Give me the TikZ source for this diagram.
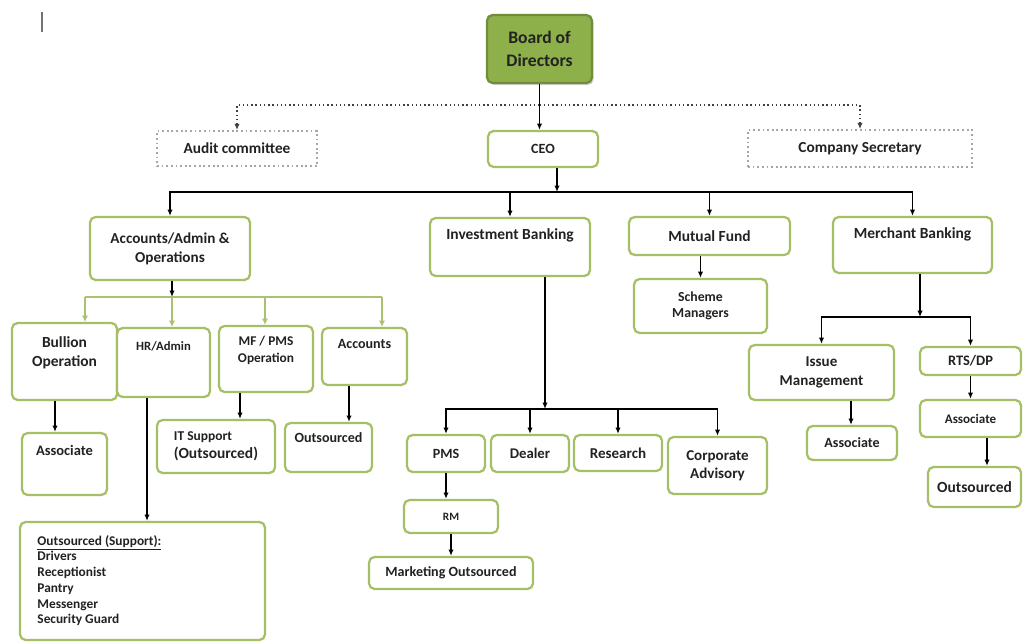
\documentclass[tikz,border=0pt]{standalone}
\usepackage{fontspec}
\setmainfont{Carlito}
\usepackage{tikz}
\usetikzlibrary{arrows.meta,positioning,shadows}
\definecolor{boxgreen}{HTML}{A5BF66}
\definecolor{bodgreen}{HTML}{8DB04A}
\definecolor{linkgreen}{HTML}{A9C272}
\definecolor{inkdark}{HTML}{222222}

\begin{document}
\begin{tikzpicture}[x=0.025cm,y=-0.025cm,
    fs/.style 2 args={font=\bfseries\fontsize{#1}{#2}\selectfont},
    boxsize/.style 2 args={minimum width=#1*0.025cm,minimum height=#2*0.025cm},
    orgbox/.style={draw=boxgreen,line width=1.6pt,rounded corners=4pt,fill=white,
      text=inkdark,fs={10}{12.5},align=center,inner sep=1pt},
    bodbox/.style={orgbox,fill=bodgreen,draw=bodgreen!80!black,fs={12.5}{16.5},
      drop shadow={opacity=0.35,shadow xshift=1.2pt,shadow yshift=-1.5pt}},
    dotbox/.style={draw=gray!70,dotted,line width=1.3pt,fill=white,text=inkdark,
      fs={10.9}{13},inner sep=1pt},
    lbl/.style={text=inkdark,align=center,inner sep=0pt},
    arr/.style={-{Latex[length=4.5pt,width=3.8pt]},line width=1.1pt,black},
    garr/.style={-{Latex[length=4.5pt,width=4.5pt]},line width=1.8pt,linkgreen},
    dotarr/.style={-{Latex[length=4.5pt,width=3.8pt]},dotted,line width=1pt,black!75}]
  \useasboundingbox[fill=white] (0,0) rectangle (1023,642);
  \draw[black!55,line width=0.8pt] (42,12) -- (42,32);

  \node[bodbox,boxsize={105}{68}] (bod) at (539.5,49) {Board of\\Directors};
  \node[dotbox,boxsize={160}{35}] (audit) at (237,148.5) {Audit committee};
  \node[orgbox,boxsize={110}{36}] (ceo) at (543,149) {CEO};
  \node[dotbox,boxsize={224}{37}] (csec) at (860,148.5) {Company Secretary};

  \node[orgbox,boxsize={160}{63},fs={10.8}{13.5}] (acc) at (170,248.5) {Accounts/Admin \&\\Operations};
  \node[orgbox,boxsize={160}{58}] (ib) at (510,247) {};
  \node[lbl,fs={11}{13},below=8.5pt of ib.north] (ib-t) {Investment Banking};
  \node[orgbox,boxsize={161}{38},fs={11}{13}] (mf) at (709.5,236) {Mutual Fund};
  \node[orgbox,boxsize={159}{56}] (mb) at (912.5,245) {};
  \node[lbl,fs={11}{13},below=8.5pt of mb.north] (mb-t) {Merchant Banking};
  \node[orgbox,boxsize={133}{54},fs={9.8}{11.2}] (sm) at (700.5,306) {Scheme\\Managers};

  \node[orgbox,boxsize={105}{77}] (bul) at (64.5,361.5) {};
  \node[lbl,fs={11}{14},below=10pt of bul.north] (bul-t) {Bullion\\Operation};
  \node[orgbox,boxsize={93}{69}] (hr) at (163.5,362.5) {};
  \node[lbl,fs={9}{10},below=10.5pt of hr.north] (hr-t) {HR/Admin};
  \node[orgbox,boxsize={94}{66}] (mfpms) at (266,359) {};
  \node[lbl,fs={9.5}{11.6},below=8pt of mfpms.north] (mfpms-t) {MF / PMS\\Operation};
  \node[orgbox,boxsize={85}{57}] (accts) at (364.5,356.5) {};
  \node[lbl,fs={10}{11},below=8.5pt of accts.north] (accts-t) {Accounts};

  \node[orgbox,boxsize={85}{62}] (assoc1) at (64.5,464) {};
  \node[lbl,fs={10.3}{12},below=9.5pt of assoc1.north] (assoc1-t) {Associate};
  \node[orgbox,boxsize={118}{53},align=left] (its) at (216,446.5)
    {{\fontsize{9.6}{12}\selectfont IT Support}\\{\fontsize{11}{13}\selectfont(Outsourced)}};
  \node[orgbox,boxsize={87}{49}] (out1) at (328.5,447.5) {};
  \node[lbl,fs={10}{11},below=7.5pt of out1.north] (out1-t) {Outsourced};
  \node[orgbox,boxsize={245}{118}] (ops) at (142.5,581) {};
  \node[lbl,fs={9.5}{11.2},align=left,below right=10pt and 13pt of ops.north west] (ops-t)
    {\underline{Outsourced (Support):}\\Drivers\\Receptionist\\Pantry\\Messenger\\Security Guard};

  \node[orgbox,boxsize={78}{37}] (pms) at (446,453.5) {PMS};
  \node[orgbox,boxsize={78}{37},fs={10.5}{12}] (dealer) at (530,453.5) {Dealer};
  \node[orgbox,boxsize={88}{36},fs={10.7}{12}] (res) at (618,453) {Research};
  \node[orgbox,boxsize={99}{57},fs={10.7}{12.5}] (corp) at (717.5,465.5) {Corporate\\Advisory};
  \node[orgbox,boxsize={94}{33},fs={8}{10}] (rm) at (451,516.5) {RM};
  \node[orgbox,boxsize={164}{32},fs={10}{11}] (mkt) at (451,573) {Marketing Outsourced};

  \node[orgbox,boxsize={145}{55},fs={10.7}{14}] (im) at (821.5,372.5) {Issue\\Management};
  \node[orgbox,boxsize={90}{34},fs={10}{11}] (assoc2) at (852,443) {Associate};
  \node[orgbox,boxsize={101}{28},fs={10.3}{12}] (rts) at (970.5,361) {RTS/DP};
  \node[orgbox,boxsize={101}{37},fs={9.3}{11}] (assoc3) at (970.5,418.5) {Associate};
  \node[orgbox,boxsize={93}{40},fs={11}{12}] (out3) at (974.5,487) {Outsourced};

  \coordinate (dj) at (539.5,105);
  \draw[dotarr] (dj) -| (audit.north);
  \draw[dotarr] (dj) -| (csec.north);
  \draw[arr] (bod.south) -- (bod.south |- ceo.north);

  \coordinate (cb) at (557,192);
  \foreach \n in {acc,ib,mf,mb}
    \draw[arr] (cb) -| (\n.north);
  \draw[arr] (cb |- ceo.south) -- (cb);

  \coordinate (g1) at (85,297);
  \coordinate (g2) at (172,297);
  \coordinate (g3) at (265,297);
  \coordinate (g4) at (382,297);
  \draw[linkgreen,line width=1.8pt] (g1) -- (g4);
  \foreach \g/\n in {g1/bul,g2/hr,g3/mfpms,g4/accts}
    \draw[garr] (\g) -- (\g |- \n.north);
  \draw[arr] (g2 |- acc.south) -- (g2);

  \draw[arr] (sm.north |- mf.south) -- (sm.north);

  \coordinate (ibj) at (545,409);
  \foreach \n in {pms,dealer,res,corp}
    \draw[arr] (ibj) -| (\n.north);
  \draw[arr] (ibj |- ib.south) -- (ibj);
  \draw[arr] (pms.south) -- (pms.south |- rm.north);
  \draw[arr] (rm.south) -- (mkt.north);

  \coordinate (mbj) at (920,317);
  \foreach \n in {im,rts}
    \draw[arr] (mbj) -| (\n.north);
  \draw[arr] (mbj |- mb.south) -- (mbj);
  \draw[arr] (rts.south) -- (assoc3.north);

  \foreach \x/\a/\b in {55/bul/assoc1,147/hr/ops,240/mfpms/its,349/accts/out1,851/im/assoc2,987/assoc3/out3}{
    \coordinate (t) at (\x,0);
    \draw[arr] (t |- \a.south) -- (t |- \b.north);
  }
\end{tikzpicture}
\end{document}
